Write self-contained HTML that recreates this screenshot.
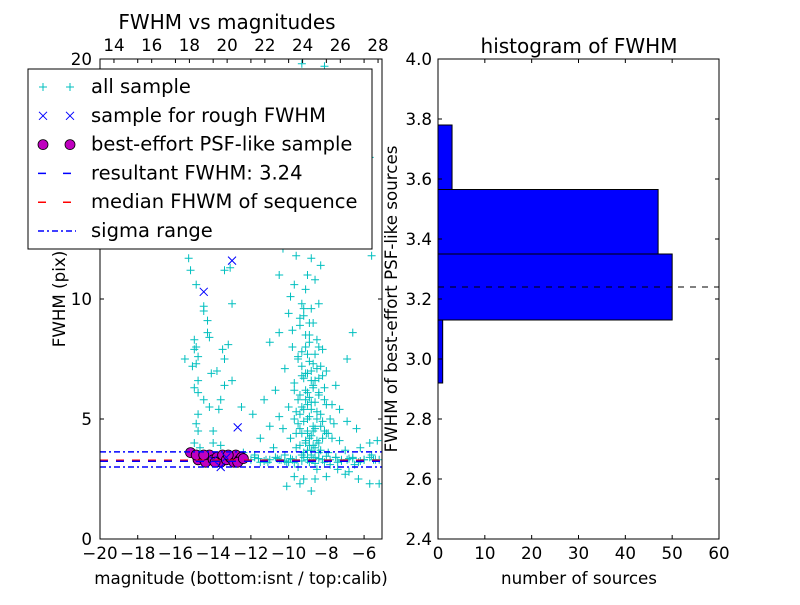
<!DOCTYPE html>
<html><head><meta charset="utf-8"><style>
body{margin:0;background:#fff;}
svg text{font-family:"DejaVu Sans","Liberation Sans",sans-serif;}
</style></head><body>
<svg id="c" width="800" height="600" xmlns="http://www.w3.org/2000/svg"></svg>
<script>
const allX=[-15.3,-15.2,-14.9,-14.5,-14.5,-14.3,-14.3,-14.2,-15.0,-14.9,-15.0,-14.8,-15.1,-14.9,-14.8,-15.0,-14.8,-14.5,-14.2,-14.8,-14.9,-14.8,-15.0,-14.7,-14.0,-13.5,-13.4,-13.2,-13.8,-13.4,-13.0,-14.1,-13.6,-13.7,-12.5,-13.1,-13.4,-13.0,-15.5,-14.0,-12.4,-13.6,
-9.3,-8.1,-8.5,-9.4,-9.0,-8.3,-9.8,-7.8,-5.7,-9.2,-8.7,-10.1,-8.0,-9.5,-11.0,-10.3,-9.6,-8.8,-8.3,-5.6,-10.5,-9.7,-9.1,-8.6,-9.9,-9.3,-8.8,-10.0,-9.4,-8.9,-10.5,-9.1,-8.5,-6.6,-11.0,-9.8,-8.2,-9.0,-9.5,-8.7,-10.2,-8.0,-6.9,-9.3,-8.6,-7.5,-10.7,-9.7,-9.0,-8.4,-11.3,-9.5,-8.8,-7.7,-10.0,-9.2,-8.5,-7.3,-11.9,-10.5,-9.7,-9.0,-8.2,-7.6,-6.9,-11.0,-10.3,-9.4,-8.7,-8.0,-6.4,-5.7,-5.3,-11.5,-9.9,-9.1,-8.4,-7.3,-6.2,-10.8,-9.6,-8.8,-7.9,-7.0,-11.8,-10.2,-9.3,-8.6,-7.5,-6.6,-5.6,-11.2,-10.5,-9.8,-9.0,-8.2,-7.2,-6.0,-5.2,-11.5,-10.0,-8.9,-7.8,-6.5,-9.5,-8.5,-7.4,-6.8,-9.7,-9.2,-8.0,-7.0,-5.7,-5.2,-10.1,-9.4,-8.8,-8.6,-6.3,-9.1,-8.9,-9.2,-8.7,-9.4,-8.1,-8.3,-9.0,-8.9,-9.6,-9.1,-8.4,-8.8,-9.3,-9.0,-8.4,
-9.2,-9.0,-8.8,-8.6,-8.4,-9.4,-9.1,-8.9,-8.7,-8.5,-8.3,-9.3,-9.0,-8.8,-8.6,-8.2,-9.5,-9.2,-8.9,-8.7,-8.5,-8.1,-9.6,-9.3,-9.0,-8.8,-8.6,-8.3,-7.9,-9.4,-9.1,-8.9,-8.7,-8.4,-8.0,-9.7,-9.2,-9.0,-8.8,-8.5,-8.2,-7.8,-9.5,-9.3,-9.1,-8.9,-8.6,-8.3,-9.8,-9.4,-9.2,-8.9,-8.7,-8.4,-8.1,-7.7,
-12.0,-11.6,-11.3,-11.0,-10.7,-10.4,-10.1,-9.9,-9.6,-9.3,-9.0,-8.7,-8.4,-8.1,-7.8,-7.5,-7.2,-6.9,-6.6,-6.3,-6.0,-5.7,-5.4,-11.8,-11.1,-10.6,-10.2,-9.7,-9.2,-8.6,-8.0,-7.4,-6.8,-6.2,-5.5];
const allY=[11.7,11.2,10.6,9.7,9.5,9.1,8.6,8.4,8.3,8.0,7.9,7.6,7.2,7.3,6.6,6.3,6.1,5.8,5.5,5.2,4.8,4.5,4.0,3.8,4.0,7.9,7.5,8.1,7.0,6.4,6.6,6.9,5.8,5.4,5.5,11.3,11.2,9.8,7.5,4.5,3.6,3.9,
19.8,19.7,19.3,18.5,17.9,17.5,16.5,16.0,15.9,15.0,14.5,14.0,13.5,13.2,12.4,12.1,11.8,11.7,11.4,11.8,11.0,10.6,10.4,10.8,10.1,9.8,9.6,9.4,9.2,9.0,8.6,8.5,8.3,8.6,8.2,8.0,7.9,7.7,7.5,7.3,7.1,7.0,7.5,6.8,6.6,6.4,6.2,6.2,6.1,6.0,5.8,5.8,5.7,5.6,5.5,5.4,5.3,5.4,5.2,5.1,5.0,5.0,4.9,4.8,4.9,4.7,4.6,4.6,4.5,4.4,4.6,4.0,4.1,4.2,4.2,4.1,4.0,4.1,3.8,3.8,3.8,3.7,3.6,3.7,3.5,3.5,3.5,3.4,3.4,3.4,3.5,3.3,3.3,3.3,3.3,3.3,3.3,3.3,3.3,3.2,3.2,3.2,3.1,3.1,3.0,2.9,2.9,2.8,2.6,2.5,2.6,2.7,2.3,2.3,2.2,2.3,2.0,2.5,2.5,6.9,8.2,9.6,6.4,5.2,5.8,4.7,4.4,3.9,4.4,5.8,6.7,7.0,7.2,11.0,9.8,
3.6,3.7,3.5,3.8,3.6,3.9,4.0,4.2,3.9,4.1,3.7,4.4,4.5,4.3,4.6,4.2,4.8,4.9,5.1,4.7,5.0,4.5,5.3,5.5,5.6,5.4,5.7,5.2,4.4,6.0,6.2,5.9,6.3,6.1,5.6,6.5,6.7,6.9,6.6,7.1,6.8,5.0,7.6,7.8,8.0,7.4,7.7,7.2,8.7,8.9,9.3,8.5,9.0,8.0,6.3,4.2,
3.3,3.35,3.25,3.3,3.4,3.3,3.2,3.35,3.3,3.25,3.4,3.3,3.35,3.2,3.3,3.4,3.25,3.3,3.35,3.2,3.3,3.4,3.3,3.4,3.2,3.35,3.25,3.2,3.4,3.15,3.45,3.2,3.35,3.25,3.3];
const psfX=[-15.2,-14.8,-14.6,-14.4,-14.2,-14.0,-13.8,-13.6,-13.5,-13.3,-13.1,-12.9,-12.8,-12.6,-12.5,-14.9,-13.9,-13.2,-12.7,-14.5,-12.4];
const psfY=[3.6,3.3,3.4,3.2,3.5,3.3,3.4,3.2,3.5,3.3,3.4,3.2,3.5,3.3,3.4,3.5,3.2,3.5,3.2,3.5,3.35];
const roughX=[-14.5,-13.0,-12.7,-13.6,-14.0,-13.3];
const roughY=[10.3,11.6,4.65,3.0,3.3,3.4];
const resultFWHM=3.24, medianFWHM=3.28, sigmaLo=3.0, sigmaHi=3.63;
const binEdges=[2.92,3.13,3.35,3.565,3.78];
const binCounts=[1,50,47,3];
const leftXTicks=[-20,-18,-16,-14,-12,-10,-8,-6];
const topXTicks=[14,16,18,20,22,24,26,28];
const leftYTicks=[0,5,10,20];
const rightXTicks=[0,10,20,30,40,50,60];
const rightYTicks=[2.4,2.6,2.8,3.0,3.2,3.4,3.6,3.8,4.0];

const NS="http://www.w3.org/2000/svg", svg=document.getElementById('c');
function mk(t,a,p){const e=document.createElementNS(NS,t);for(const k in a)e.setAttribute(k,a[k]);(p||svg).appendChild(e);return e;}
function txt(s,x,y,a,p){const e=mk('text',Object.assign({x:x,y:y,'font-size':16.7,'text-anchor':'middle'},a||{}),p);e.textContent=s;return e;}

const L={x0:100,x1:382,y0:539,y1:59}, xmin=-20,xmax=-5.05,ymin=0,ymax=20, topOff=33.26;
const lx=v=>L.x0+(v-xmin)/(xmax-xmin)*(L.x1-L.x0);
const ly=v=>L.y0-(v-ymin)/(ymax-ymin)*(L.y0-L.y1);
const gL=mk('g',{});


const cl=mk('clipPath',{id:'cl'});mk('rect',{x:L.x0,y:L.y1,width:L.x1-L.x0,height:L.y0-L.y1},cl);
const gp=mk('g',{'clip-path':'url(#cl)'},gL);
for(let i=0;i<allX.length;i++){const x=lx(allX[i]),y=ly(allY[i]);
 const e=mk('path',{d:`M${x-4},${y}h8M${x},${y-4}v8`,stroke:'#00bfbf','stroke-width':1},gp);
 }
for(let i=0;i<psfX.length;i++){const e=mk('circle',{cx:lx(psfX[i]),cy:ly(psfY[i]),r:5,fill:'#bf00bf',stroke:'#000','stroke-width':0.8},gp);
 }
for(let i=0;i<roughX.length;i++){const x=lx(roughX[i]),y=ly(roughY[i]);
 const e=mk('path',{d:`M${x-4},${y-4}l8,8M${x-4},${y+4}l8,-8`,stroke:'#0000ff','stroke-width':1},gp);
 }
function hl(v,c,dash,name){const e=mk('line',{x1:L.x0,x2:L.x1,y1:ly(v),y2:ly(v),stroke:c,'stroke-width':1.5,'stroke-dasharray':dash},gp);
 }
hl(sigmaHi,'#0000ff','6,3,2,3','sigma-upper-line');hl(sigmaLo,'#0000ff','6,3,2,3','sigma-lower-line');
hl(medianFWHM,'#ff0000','8,8','median-line');hl(resultFWHM,'#0000ff','8,8','resultant-line');
mk('rect',{x:L.x0,y:L.y1,width:L.x1-L.x0,height:L.y0-L.y1,fill:'none',stroke:'#000'},gL);
leftXTicks.forEach(v=>{const x=lx(v);mk('path',{d:`M${x},${L.y0}v-4M${x},${L.y1}v4`,stroke:'#000'},gL);txt(v<0?'\u2212'+(-v):v,x,559,{},gL);});
topXTicks.forEach(v=>{const x=lx(v-topOff);mk('path',{d:`M${x},${L.y1}v4`,stroke:'#000'},gL);txt(v,x,51,{},gL);});
leftYTicks.forEach(v=>{const y=ly(v);mk('path',{d:`M${L.x0},${y}h4M${L.x1},${y}h-4`,stroke:'#000'},gL);txt(v,92,y+6,{'text-anchor':'end'},gL);});
txt('magnitude (bottom:isnt / top:calib)',241,584,{},gL);
txt('FWHM (pix)',65,299,{transform:'rotate(-90 65 299)'},gL);
txt('FWHM vs magnitudes',227,29,{'font-size':20},gL);

const lg=mk('g',{});


mk('rect',{x:28,y:69,width:344,height:180,fill:'#fff',stroke:'#000'},lg);
const labels=['all sample','sample for rough FWHM','best-effort PSF-like sample','resultant FWHM: 3.24','median FHWM of sequence','sigma range'];
labels.forEach((s,i)=>{const y=87+i*28.8;
 const g=mk('g',{},lg);
 if(i==0)[43,70].forEach(x=>mk('path',{d:`M${x-4},${y}h8M${x},${y-4}v8`,stroke:'#00bfbf'},g));
 if(i==1)[43,70].forEach(x=>mk('path',{d:`M${x-4},${y-4}l8,8M${x-4},${y+4}l8,-8`,stroke:'#0000ff'},g));
 if(i==2)[43,70].forEach(x=>mk('circle',{cx:x,cy:y,r:5,fill:'#bf00bf',stroke:'#000','stroke-width':0.8},g));
 if(i==3)mk('line',{x1:38,x2:76,y1:y,y2:y,stroke:'#0000ff','stroke-width':1.5,'stroke-dasharray':'8,17'},g);
 if(i==4)mk('line',{x1:38,x2:76,y1:y,y2:y,stroke:'#ff0000','stroke-width':1.5,'stroke-dasharray':'8,17'},g);
 if(i==5)mk('line',{x1:38,x2:76,y1:y,y2:y,stroke:'#0000ff','stroke-width':1.5,'stroke-dasharray':'6,3,2,3'},g);
 txt(s,91,y+6,{'text-anchor':'start','font-size':19.5},g);});

const R={x0:438,x1:719,y0:539,y1:59};
const rx=v=>R.x0+v/60*(R.x1-R.x0), ry=v=>R.y0-(v-2.4)/1.6*(R.y0-R.y1);
const gR=mk('g',{});


binCounts.forEach((c,i)=>{const y1=ry(binEdges[i+1]),y0=ry(binEdges[i]);
 const e=mk('rect',{x:rx(0),y:y1,width:rx(c)-rx(0),height:y0-y1,fill:'#0000ff',stroke:'#000'},gR);
 });
const dl=mk('line',{x1:R.x0,x2:R.x1,y1:ry(resultFWHM),y2:ry(resultFWHM),stroke:'#000','stroke-dasharray':'6,6'},gR);

mk('rect',{x:R.x0,y:R.y1,width:R.x1-R.x0,height:R.y0-R.y1,fill:'none',stroke:'#000'},gR);
rightXTicks.forEach(v=>{const x=rx(v);mk('path',{d:`M${x},${R.y0}v-4M${x},${R.y1}v4`,stroke:'#000'},gR);txt(v,x,559,{},gR);});
rightYTicks.forEach(v=>{const y=ry(v);mk('path',{d:`M${R.x0},${y}h4M${R.x1},${y}h-4`,stroke:'#000'},gR);txt(v.toFixed(1),432,y+6,{'text-anchor':'end'},gR);});
txt('number of sources',579,584,{},gR);
txt('FWHM of best-effort PSF-like sources',397,299,{transform:'rotate(-90 397 299)'},gR);
txt('histogram of FWHM',579,53,{'font-size':20},gR);
</script>
</body></html>
